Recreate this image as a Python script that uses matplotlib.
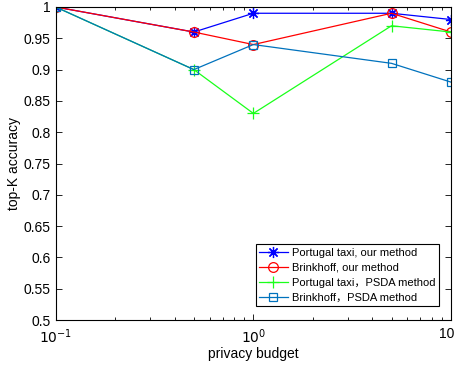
import matplotlib
matplotlib.use("Agg")
import matplotlib.pyplot as plt
import matplotlib.transforms as mtransforms
from matplotlib.ticker import FixedLocator, LogLocator, NullFormatter

plt.rcParams['font.family'] = ['Liberation Sans', 'Noto Sans CJK SC', 'DejaVu Sans']

budget = [0.1, 0.5, 1, 5, 10]
taxi_ours = [1.0, 0.96, 0.99, 0.99, 0.98]
brink_ours = [1.0, 0.96, 0.94, 0.99, 0.96]
taxi_psda = [1.0, 0.90, 0.83, 0.97, 0.96]
brink_psda = [1.0, 0.90, 0.94, 0.91, 0.88]
labels = ["Portugal taxi, our method", "Brinkhoff, our method",
          "Portugal taxi\uff0cPSDA method", "Brinkhoff\uff0cPSDA method"]
yticks = [0.5, 0.55, 0.6, 0.65, 0.7, 0.75, 0.8, 0.85, 0.9, 0.95, 1.0]
ytick_labels = ["0.5", "0.55", "0.6", "0.65", "0.7", "0.75", "0.8", "0.85", "0.9", "0.95", "1"]
xticks = [0.1, 1, 10]
xtick_labels = [r"$10^{-1}$", r"$10^{0}$", "10"]

fig = plt.figure(figsize=(4.55, 3.66), dpi=100)
ax = fig.add_axes([55.7/455, 1 - 320/366, (451 - 55.7)/455, (320 - 7)/366])

lw = 0.9
ax.plot(budget, taxi_ours, color=(0, 0, 1), lw=lw, marker=(8, 2, 0), ms=8, mew=0.9, label=labels[0])
ax.plot(budget, brink_ours, color=(1, 0, 0), lw=lw, marker='o', ms=7, mfc='none', mew=0.9, label=labels[1])
ax.plot(budget, taxi_psda, color=(0.1, 1, 0.1), lw=lw, marker='+', ms=8, mew=0.9, label=labels[2])
ax.plot(budget, brink_psda, color=(0, 0.447, 0.741), lw=lw, marker='s', ms=6, mfc='none', mew=0.9, label=labels[3])

ax.set_xscale('log')
ax.set_xlim(0.1, 10)
ax.set_ylim(0.5, 1.0)
ax.xaxis.set_major_locator(FixedLocator(xticks))
ax.set_xticklabels(xtick_labels)
ax.xaxis.set_minor_locator(LogLocator(base=10, subs=range(2, 10)))
ax.xaxis.set_minor_formatter(NullFormatter())
ax.set_yticks(yticks)
ax.set_yticklabels(ytick_labels)
ax.tick_params(which='both', direction='in', top=True, right=True, labelsize=10, width=0.6, colors='black')
ax.tick_params(which='major', length=4)
ax.tick_params(which='minor', length=2.5)
ax.tick_params(axis='x', which='major', pad=5)
for s in ax.spines.values():
    s.set_linewidth(0.8)

last = ax.get_xticklabels()[-1]
last.set_horizontalalignment('right')
last.set_transform(last.get_transform() + mtransforms.ScaledTranslation(3/100, 0, fig.dpi_scale_trans))

ax.set_xlabel("privacy budget", fontsize=10, labelpad=1)
ax.set_ylabel("top-K accuracy", fontsize=10, labelpad=2)

leg = ax.legend(loc='lower right', bbox_to_anchor=(0.970, 0.045), fontsize=8, frameon=True,
                fancybox=False, edgecolor='black', framealpha=1, borderpad=0.3,
                labelspacing=0.45, handlelength=2.6, handletextpad=0.4, borderaxespad=0)
leg.get_frame().set_linewidth(0.8)

fig.savefig("out.png", dpi=100)
